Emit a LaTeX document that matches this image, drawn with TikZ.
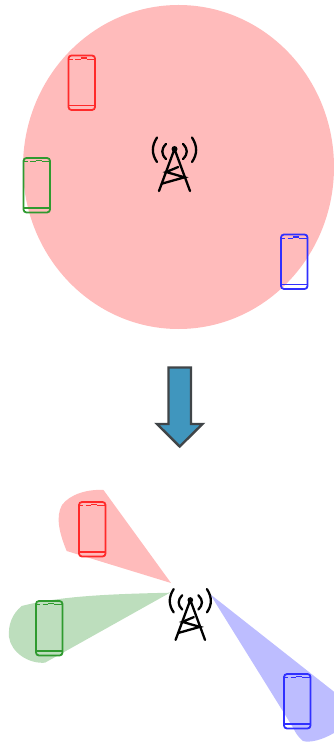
\documentclass[tikz,border=0pt]{standalone}
\definecolor{cellred}{HTML}{FFBBBB}
\definecolor{beamgreen}{HTML}{BDDEBD}
\definecolor{beamblue}{HTML}{BDBDFF}
\definecolor{phred}{HTML}{FF2A2A}
\definecolor{phgreen}{HTML}{2F9A2F}
\definecolor{phblue}{HTML}{3030FF}
\definecolor{arrowfill}{HTML}{4096BE}
\definecolor{arrowline}{HTML}{404548}
\tikzset{
  towerline/.style={draw=black,line width=2.3pt,line cap=round,line join=round},
  phonebody/.style={line width=1.8pt,rounded corners=3pt},
  phonedetail/.style={line width=.9pt},
  phone/.pic={
    \draw[phonebody] (0,0) rectangle (26.5,54.5);
    \draw[phonedetail] (0.5,3.5) -- (4,3.5) (6.5,3.5) -- (12,3.5) (18,3.5) -- (26,3.5);
    \draw[line width=1.4pt] (12,2.4) -- (18,2.4);
    \draw[line width=1.1pt] (0,50) -- (26.5,50);
  },
  tower/.pic={
    \draw[towerline] (-15.5,42) -- (0,0) -- (15.5,42);
    \fill (0,0) circle (3);
    \draw[towerline,line join=miter] (3.7,18) -- (-8.3,23) -- (10,28.3) -- (-12.7,34.7);
    \draw[towerline] (-17.5,-11.5) .. controls (-23,-3) and (-23,5) .. (-17.5,13);
    \draw[towerline] (-8.5,-5) .. controls (-13.5,0) and (-13.5,5) .. (-8.5,10);
    \draw[towerline] (17.5,-11.5) .. controls (23,-3) and (23,5) .. (17.5,13);
    \draw[towerline] (8.5,-5) .. controls (13.5,0) and (13.5,5) .. (8.5,10);
  }
}
\begin{document}
\begin{tikzpicture}[x=1pt,y=-1pt]
\useasboundingbox (0,0) rectangle (334,743);
\fill[cellred] (178.5,167) ellipse [x radius=155.5,y radius=162];
\pic[draw=phred,color=phred] at (68.5,55.5) {phone};
\pic[draw=phgreen,color=phgreen] at (23.5,158) {phone};
\pic[draw=phblue,color=phblue] at (281,234.5) {phone};
\pic at (174.5,149) {tower};
% arrow
\filldraw[fill=arrowfill,draw=arrowline,line width=2.4pt,line join=miter]
  (168.5,367.5) -- (191,367.5) -- (191,424) -- (202.5,424) -- (179.7,446.5) -- (157,424) -- (168.5,424) -- cycle;
% beams
\fill[cellred] (171,583) -- (103.5,490) .. controls (88,489) and (70,494) .. (62,505)
  .. controls (55,517) and (60,535) .. (66.7,551) -- cycle;
\fill[beamgreen] (170,592.7) .. controls (110,594) and (60,596) .. (21.7,606)
  .. controls (12,614) and (8,625) .. (9,637) .. controls (11,652) and (28,664) .. (45,662.7) -- cycle;
\fill[beamblue] (210,594) -- (334,691.7) -- (334,733) .. controls (322,740) and (310,743) .. (303,741)
  .. controls (298,737) and (295,732) .. (293.3,728) -- cycle;
\pic[draw=phred,color=phred] at (79,502) {phone};
\pic[draw=phgreen,color=phgreen] at (36,601) {phone};
\pic[draw=phblue,color=phblue] at (284,674) {phone};
\pic[scale=.95] at (190.3,600) {tower};
\end{tikzpicture}
\end{document}
